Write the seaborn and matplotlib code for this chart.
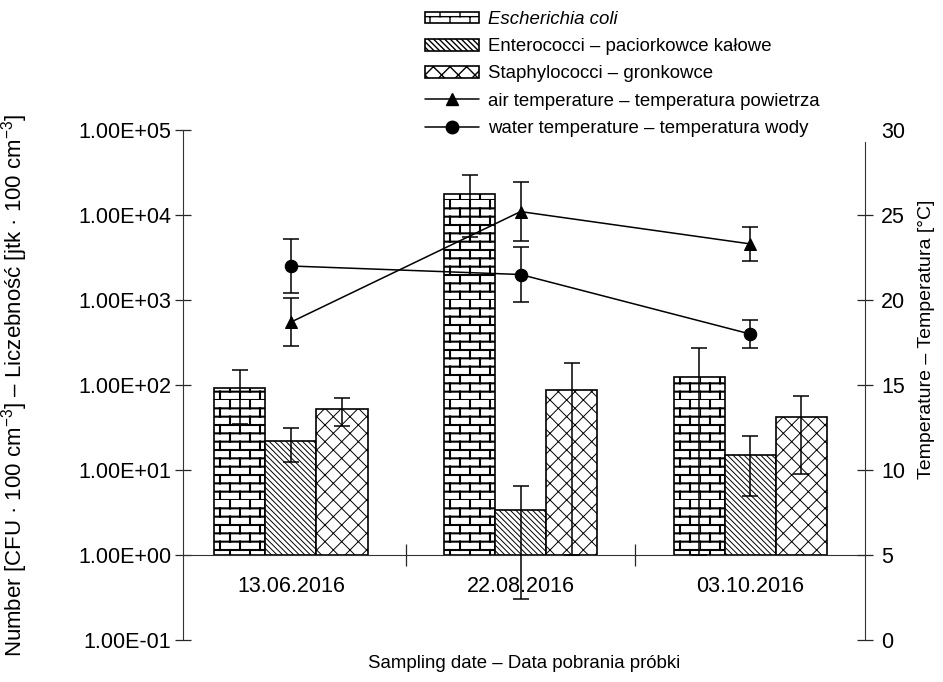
import warnings
import numpy as np
import pandas as pd
import matplotlib
matplotlib.use('Agg')
import matplotlib.pyplot as plt
import matplotlib.hatch as mhatch
from matplotlib.path import Path
from matplotlib.patches import Patch
from matplotlib.lines import Line2D
from matplotlib.ticker import FixedLocator, FuncFormatter, NullLocator
import seaborn as sns

# data
dates = ['13.06.2016', '22.08.2016', '03.10.2016']
groups = ['Escherichia coli',
          'Enterococci – paciorkowce kałowe',
          'Staphylococci – gronkowce']
ecoli = [93, 17500, 125]
ecoli_err = [58, 12000, 150]
entero = [22, 3.4, 15]
entero_err = [9.5, 3.1, 10]
staph = [52, 88, 42]
staph_err = [19, 92, 33]

temp_labels = ['air temperature – temperatura powietrza',
               'water temperature – temperatura wody']
air_temp = [18.7, 25.2, 23.3]
air_err = [1.4, 1.75, 1.0]
water_temp = [22.0, 21.5, 18.0]
water_err = [1.6, 1.6, 0.85]


class BrickHatch(mhatch.HatchPatternBase):
    """Staggered brick pattern, used with hatch='b'."""
    rows, per_row = 12, 5

    def __init__(self, hatch, density):
        self.num_vertices = 2 * self.rows * (1 + self.per_row) if 'b' in hatch else 0

    def set_vertices_and_codes(self, vertices, codes):
        segs = []
        for i in range(self.rows):
            y0, y1 = i / self.rows, (i + 1) / self.rows
            segs.append(((0, y0), (1, y0)))
            shift = 0.5 * (i % 2) / self.per_row
            for j in range(self.per_row):
                x = j / self.per_row + shift
                segs.append(((x, y0), (x, y1)))
        vertices[:] = np.array(segs, float).reshape(-1, 2)
        codes[0::2] = Path.MOVETO
        codes[1::2] = Path.LINETO


mhatch._hatch_types.append(BrickHatch)
warnings.filterwarnings('ignore', message='hatch must consist')

sns.set_style('ticks')
plt.rcParams['font.family'] = ['Liberation Sans', 'DejaVu Sans']
plt.rcParams.update({
    'mathtext.fontset': 'custom',
    'mathtext.rm': 'Liberation Sans',
    'mathtext.it': 'Liberation Sans:italic',
    'text.color': 'black',
    'axes.labelcolor': 'black',
    'axes.edgecolor': '0.2',
    'hatch.linewidth': 1.0,
})

fig = plt.figure(figsize=(9.43, 6.82), dpi=100)
ax = fig.add_axes([183 / 943, 42 / 682, 682 / 943, 510 / 682])

counts = pd.DataFrame({
    'date': dates * 3,
    'group': np.repeat(groups, len(dates)),
    'count': ecoli + entero + staph,
})
sns.barplot(data=counts, x='date', y='count', hue='group', hue_order=groups,
            palette={g: 'white' for g in groups}, width=0.667, errorbar=None,
            edgecolor='black', linewidth=1.2, log_scale=True, legend=False, ax=ax)

hatches = ['b', '\\' * 6, 'xx']
hatch_lw = [1.5, 0.7, 0.7]
values = [ecoli, entero, staph]
errors = [ecoli_err, entero_err, staph_err]
for bars, hatch, hlw, vals, errs in zip(ax.containers, hatches, hatch_lw, values, errors):
    vals = np.asarray(vals, float)
    errs = np.asarray(errs, float)
    xs = []
    for p in bars:
        p.set_hatch(hatch)
        if hasattr(p, 'set_hatch_linewidth'):
            p.set_hatch_linewidth(hlw)
        # bars stand on the 1.00E+00 line
        p.set_height(p.get_height() - 1)
        p.set_y(1)
        xs.append(p.get_x() + p.get_width() / 2)
    lower = np.where(vals - errs > 0, errs, vals - 1)
    ax.errorbar(xs, vals, yerr=[lower, errs], fmt='none', ecolor='black',
                elinewidth=1.1, capsize=5.8, capthick=1.1, zorder=3)

ax2 = ax.twinx()
temps = pd.DataFrame({
    'pos': list(range(len(dates))) * 2,
    'temp': air_temp + water_temp,
    'series': np.repeat(temp_labels, len(dates)),
})
sns.lineplot(data=temps, x='pos', y='temp', style='series', style_order=temp_labels,
             markers={temp_labels[0]: '^', temp_labels[1]: 'o'}, dashes=False,
             color='black', linewidth=1.1, markersize=9, markeredgecolor='black',
             legend=False, ax=ax2, zorder=4)
for t, e in [(air_temp, air_err), (water_temp, water_err)]:
    ax2.errorbar(range(len(dates)), t, yerr=e, fmt='none', ecolor='black',
                 elinewidth=1.1, capsize=5.8, capthick=1.1, zorder=4)

# axes ranges and spines
ax.set_xlim(-0.47, 2.5)
ax.set_ylim(0.1, 1e5)
ax2.set_ylim(0, 30)
ax.spines['top'].set_visible(False)
ax.spines['right'].set_visible(False)
ax.spines['bottom'].set_position(('data', 1))
for s in ['top', 'left', 'bottom']:
    ax2.spines[s].set_visible(False)
ax2.spines['right'].set_bounds(0, 29.3)

# ticks
ax.set_xticks(range(len(dates)), dates)
ax.xaxis.set_minor_locator(FixedLocator([0.5, 1.5]))
ax.tick_params(axis='x', which='major', length=0, pad=15, labelsize=15.5, labelcolor='black')
ax.tick_params(axis='x', which='minor', direction='inout', length=16, width=0.9)
ax.yaxis.set_major_locator(FixedLocator(10.0 ** np.arange(-1, 6)))
ax.yaxis.set_minor_locator(NullLocator())
ax.yaxis.set_major_formatter(FuncFormatter(lambda v, _: f'{v:.2E}'))
ax.tick_params(axis='y', direction='inout', length=11, width=0.9, pad=3,
               labelsize=15.5, labelcolor='black')
ax2.set_yticks(range(0, 31, 5))
ax2.tick_params(axis='y', direction='inout', length=11, width=0.9, pad=6,
                labelsize=15.5, labelcolor='black')
ax2.yaxis.get_major_ticks()[-1].tick2line.set_visible(False)

# axis labels
ax.set_ylabel(r'Number [CFU · 100 cm$^{-3}$] – Liczebność [jtk · 100 cm$^{-3}$]', fontsize=16)
ax.yaxis.set_label_coords(-0.224, 0.5)
ax2.set_ylabel('Temperature – Temperatura [°C]', fontsize=14)
ax2.yaxis.set_label_coords(1.078, 0.59)
ax.set_xlabel('Sampling date – Data pobrania próbki', fontsize=13.4)
ax.xaxis.set_label_coords(0.5, -0.03)

# legend
handles = [Patch(facecolor='white', edgecolor='black', hatch=h, linewidth=1.2) for h in hatches]
handles += [Line2D([], [], color='black', marker=m, markersize=9, linewidth=1.1)
            for m in ['^', 'o']]
leg = fig.legend(handles, groups + temp_labels, loc='upper left',
                 bbox_to_anchor=(425 / 943, 1 - 11 / 682), frameon=False, fontsize=13.4,
                 handlelength=2.9, handleheight=0.6, handletextpad=0.5,
                 labelspacing=0.55, borderpad=0, borderaxespad=0)
leg.get_texts()[0].set_fontstyle('italic')

fig.savefig('out.png', dpi=100)
